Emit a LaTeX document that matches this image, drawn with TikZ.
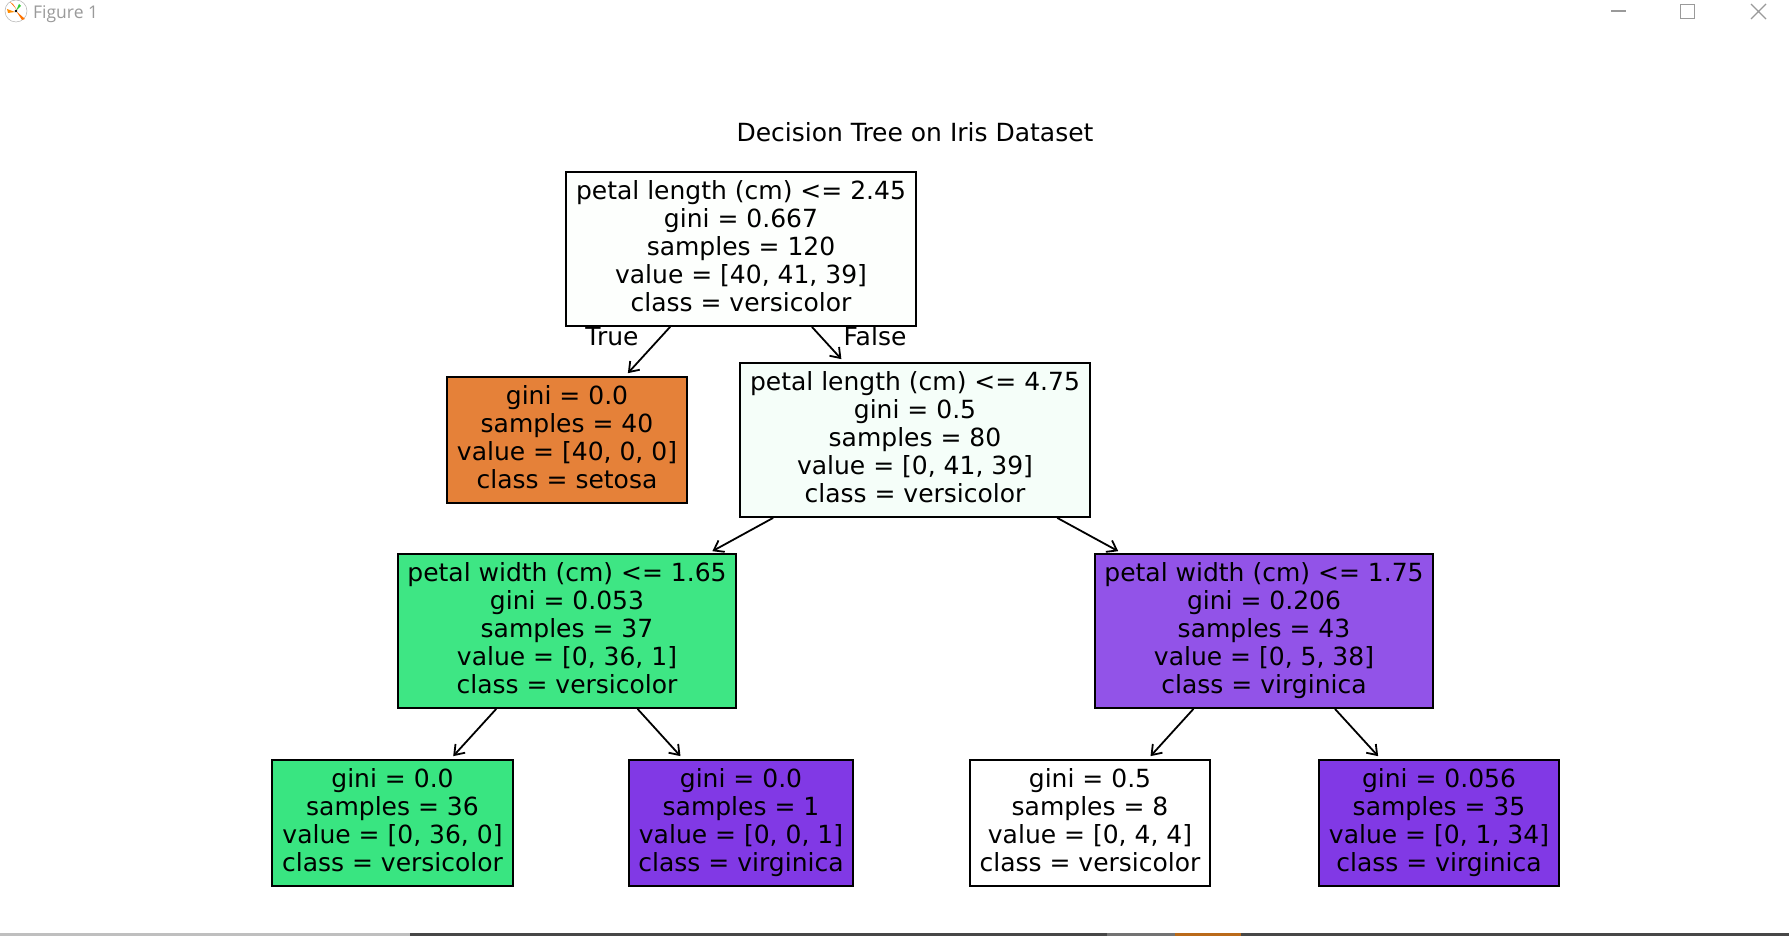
\documentclass[tikz,border=0pt]{standalone}
\usepackage{fontspec}
\setmainfont{DejaVu Sans}
\newfontfamily\barfont{Open Sans}
\usetikzlibrary{arrows.meta}

\definecolor{rootfill}{HTML}{FDFFFD}
\definecolor{setosafill}{HTML}{E58139}
\definecolor{midfill}{HTML}{F5FEF9}
\definecolor{greenfill}{HTML}{3EE684}
\definecolor{violetfill}{HTML}{9253E8}
\definecolor{leafgreen}{HTML}{39E581}
\definecolor{leafviolet}{HTML}{8139E5}
\definecolor{barinkcolor}{HTML}{9A9A9A}

\newcommand{\treestrut}{\rule[-5.6pt]{0pt}{28pt}}

\begin{document}
\begin{tikzpicture}[x=1pt, y=-1pt,
    treebox/.style={draw=black, line width=2pt, align=center, font=\fontsize{25}{28}\selectfont,
      inner xsep=9.6pt, inner ysep=8.6pt, text=black,
      execute at begin node=\treestrut, execute at end node=\treestrut},
    treearrow/.style={-{Straight Barb[length=9pt, width=13pt, line width=1.8pt]}, line width=1.8pt, shorten >=4pt},
    edgelabel/.style={font=\fontsize{25}{28}\selectfont, inner sep=0pt},
    winbutton/.style={barinkcolor, line width=1.2pt}]

  \useasboundingbox (0,0) rectangle (1789,936);
  \fill[white] (0,0) rectangle (1789,936);

  % === Window title bar ===
  \draw[gray!60, line width=0.5pt, fill=white] (16,11) circle (11);
  \fill[orange!90!red] (10,2) -- (17,10) -- (13,4) -- cycle;
  \fill[orange!90!yellow] (7,9) -- (15,12) -- (8,13) -- cycle;
  \fill[orange!90!red] (16,11) -- (25,19) -- (22,20) -- cycle;
  \fill[green!60!gray] (16,11) -- (19,4) -- (21,6) -- cycle;
  \fill[black] (16,11) circle (1.3);
  \node[barinkcolor, anchor=west, inner sep=0pt, font=\barfont\fontsize{17.5}{20}\selectfont] (figlabel) at (33,14) {Figure 1};
  \draw[winbutton] (1611,11) -- (1626,11);
  \draw[winbutton] (1680.5,4.5) rectangle (1694.5,18.5);
  \draw[winbutton] (1751,4) -- (1766,19) (1766,4) -- (1751,19);

  % === Tree nodes ===
  \node[inner sep=0pt, font=\fontsize{25}{28}\selectfont] (title) at (915,132) {Decision Tree on Iris Dataset};

  \node[treebox, fill=rootfill] (rootbox) at (741,249)
    {petal length (cm) <= 2.45\\gini = 0.667\\samples = 120\\value = [40, 41, 39]\\class = versicolor};
  \node[treebox, fill=setosafill] (setosabox) at (567,440)
    {gini = 0.0\\samples = 40\\value = [40, 0, 0]\\class = setosa};
  \node[treebox, fill=midfill] (midbox) at (915,440)
    {petal length (cm) <= 4.75\\gini = 0.5\\samples = 80\\value = [0, 41, 39]\\class = versicolor};
  \node[treebox, fill=greenfill] (greenbox) at (567,631)
    {petal width (cm) <= 1.65\\gini = 0.053\\samples = 37\\value = [0, 36, 1]\\class = versicolor};
  \node[treebox, fill=violetfill] (violetbox) at (1264,631)
    {petal width (cm) <= 1.75\\gini = 0.206\\samples = 43\\value = [0, 5, 38]\\class = virginica};
  \node[treebox, fill=leafgreen] (leafa) at (392.5,823)
    {gini = 0.0\\samples = 36\\value = [0, 36, 0]\\class = versicolor};
  \node[treebox, fill=leafviolet] (leafb) at (741,823)
    {gini = 0.0\\samples = 1\\value = [0, 0, 1]\\class = virginica};
  \node[treebox, fill=white] (leafc) at (1090,823)
    {gini = 0.5\\samples = 8\\value = [0, 4, 4]\\class = versicolor};
  \node[treebox, fill=leafviolet] (leafd) at (1439,823)
    {gini = 0.056\\samples = 35\\value = [0, 1, 34]\\class = virginica};

  % === Arrows ===
  \draw[treearrow] (rootbox) -- (setosabox);
  \draw[treearrow] (rootbox) -- (midbox);
  \draw[treearrow] (midbox) -- (greenbox);
  \draw[treearrow] (midbox) -- (violetbox);
  \draw[treearrow] (greenbox) -- (leafa);
  \draw[treearrow] (greenbox) -- (leafb);
  \draw[treearrow] (violetbox) -- (leafc);
  \draw[treearrow] (violetbox) -- (leafd);

  \node[edgelabel] (truelabel) at (612,337) {True};
  \node[edgelabel] (falselabel) at (875,336) {False};

  % === Strip along the bottom ===
  \fill[black!25] (0,933) rectangle (410,936);
  \fill[black!72] (410,933) rectangle (1789,936);
  \fill[black!55] (1107,933) rectangle (1175,936);
  \fill[orange!70!black!90] (1175,933) rectangle (1241,936);
\end{tikzpicture}
\end{document}
